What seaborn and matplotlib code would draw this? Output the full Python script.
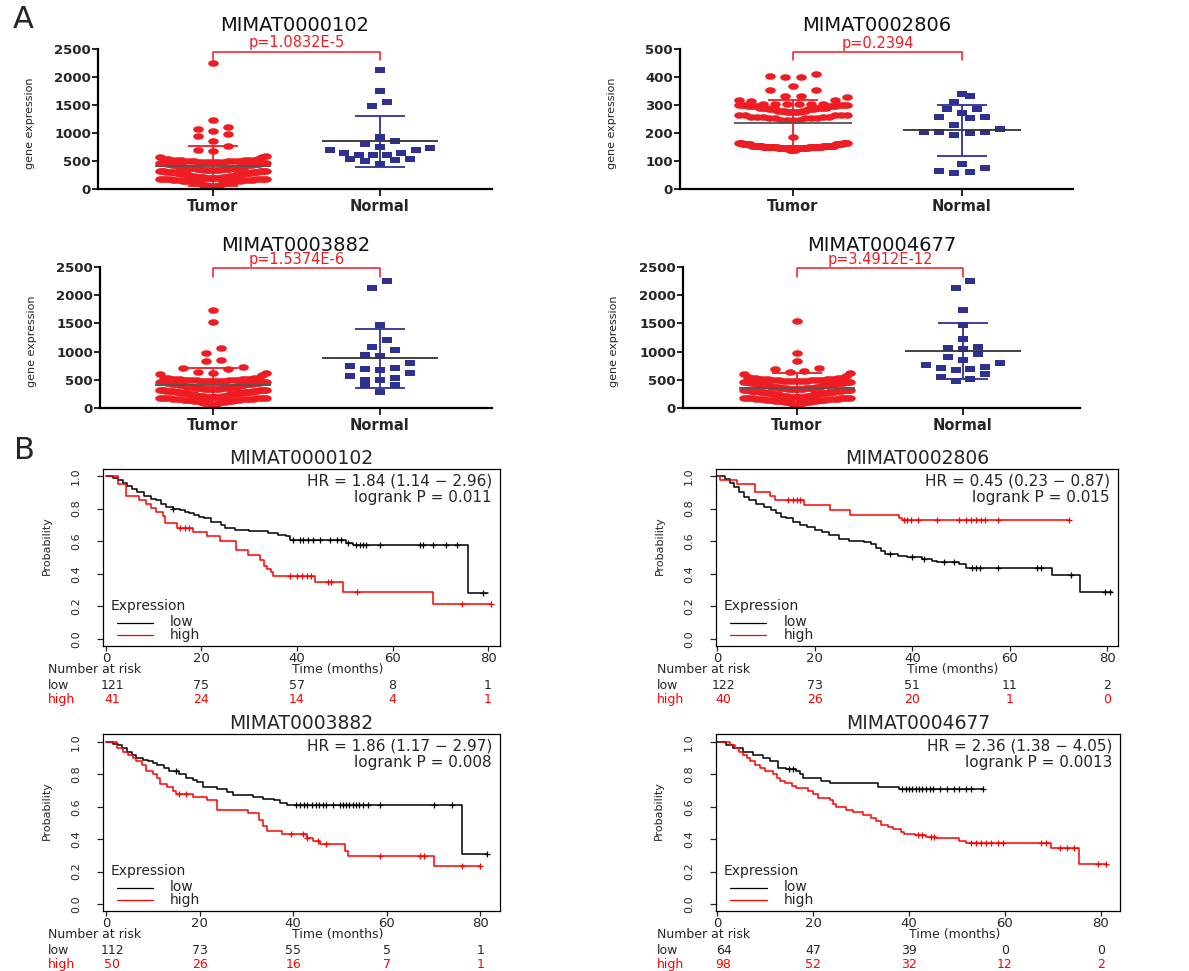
import numpy as np
import pandas as pd
import matplotlib
matplotlib.use("Agg")
import matplotlib.pyplot as plt
import matplotlib.transforms as mtrans
from matplotlib.path import Path
import seaborn as sns

# ======================= Panel A data =======================
a_titles = ["MIMAT0000102", "MIMAT0002806", "MIMAT0003882", "MIMAT0004677"]
a_pvals = ["p=1.0832E-5", "p=0.2394", "p=1.5374E-6", "p=3.4912E-12"]
a_ymax = [2500, 500, 2500, 2500]
a_ystep = [500, 100, 500, 500]
a_groups = ["Tumor", "Normal"]

# Tumor: isolated points + dense bands (value, count)
tumor1_single = [2250, 1226, 1101, 1071, 1042, 982, 952, 851, 762, 702, 673, 583, 571, 571]
tumor1_band = [540, 520, 500, 480, 460, 440, 420, 400, 380, 360, 340, 320, 300, 280, 260, 240,
               220, 200, 180, 160, 140, 120, 100, 80, 60]
tumor1_count = [3, 6, 7, 7, 6, 5, 6, 6, 7, 7, 7, 7, 7, 7, 6, 6, 7, 8, 8, 7, 5, 4, 3, 3, 3]

tumor2_single = [412, 405, 400, 400, 367, 355, 352, 333, 333, 329, 319, 319, 313, 186]
tumor2_band = [305, 300, 295, 290, 285, 280, 275, 265, 258, 252, 245, 165, 160, 155, 150, 145, 140]
tumor2_count = [6, 7, 7, 7, 6, 5, 5, 5, 5, 5, 4, 7, 13, 19, 23, 19, 5]

tumor3_single = [1740, 1532, 1057, 980, 849, 837, 730, 718, 700, 641, 629, 612, 594, 582, 540]
tumor3_band = [540, 520, 500, 480, 460, 440, 420, 400, 380, 360, 340, 320, 300, 280, 260, 240,
               220, 200, 180, 160, 140, 120, 100, 80, 60]
tumor3_count = [3, 6, 7, 7, 6, 5, 6, 6, 7, 7, 7, 7, 7, 7, 6, 6, 7, 8, 8, 7, 5, 4, 3, 3, 2]

tumor4_single = [1544, 980, 837, 718, 700, 653, 641, 612, 600, 570, 552, 540]
tumor4_band = [540, 520, 500, 480, 460, 440, 420, 400, 380, 360, 340, 320, 300, 280, 260, 240,
               220, 200, 180, 160, 140, 120, 100, 80, 60]
tumor4_count = [3, 6, 7, 7, 6, 5, 6, 6, 7, 7, 7, 7, 7, 7, 6, 6, 7, 8, 8, 7, 6, 5, 4, 3, 2]

normal1 = [2130, 1756, 1554, 1476, 923, 851, 810, 744, 732, 702, 690, 643, 643, 613, 613,
           601, 542, 536, 512, 500, 452]
normal2 = [340, 333, 311, 286, 286, 271, 257, 257, 254, 230, 214, 205, 202, 202, 200, 194,
           89, 75, 65, 61, 57]
normal3 = [2245, 2126, 1473, 1205, 1087, 1027, 938, 920, 802, 748, 701, 683, 671, 612, 570,
           540, 505, 493, 416, 404, 285]
normal4 = [2245, 2126, 1740, 1473, 1217, 1075, 1057, 1039, 950, 908, 849, 802, 760, 730, 718,
           689, 671, 594, 552, 511, 481]

tumor_mean = [410, 236, 404, 356]
tumor_sd = [358, 83, 308, 261]
normal_mean = [850, 209, 879, 1009]
normal_sd = [460, 90, 520, 503]

# ======================= Panel B data =======================
b_titles = ["MIMAT0000102", "MIMAT0002806", "MIMAT0003882", "MIMAT0004677"]
b_hr = ["HR = 1.84 (1.14 \u2212 2.96)", "HR = 0.45 (0.23 \u2212 0.87)",
        "HR = 1.86 (1.17 \u2212 2.97)", "HR = 2.36 (1.38 \u2212 4.05)"]
b_logrank = ["logrank P = 0.011", "logrank P = 0.015", "logrank P = 0.008", "logrank P = 0.0013"]
risk_times = [0, 20, 40, 60, 80]
risk_low = [[121, 75, 57, 8, 1], [122, 73, 51, 11, 2], [112, 73, 55, 5, 1], [64, 47, 39, 0, 0]]
risk_high = [[41, 24, 14, 4, 1], [40, 26, 20, 1, 0], [50, 26, 16, 7, 1], [98, 52, 32, 12, 2]]

km1_low_t = [0, 1.5, 2.5, 3.5, 4.5, 5.5, 6.5, 8, 9.5, 10.5, 11.5, 12.5, 14, 15.5, 16.5, 17.5, 18.5,
             19.5, 20.5, 22, 24, 25, 27, 30, 31, 34, 36, 37.8, 38.5, 50.3, 51.7, 75.8, 80]
km1_low_s = [1.0, 0.99, 0.975, 0.96, 0.94, 0.92, 0.90, 0.88, 0.86, 0.85, 0.83, 0.81, 0.80, 0.79,
             0.78, 0.77, 0.76, 0.75, 0.74, 0.72, 0.70, 0.68, 0.67, 0.665, 0.66, 0.65, 0.64, 0.63,
             0.61, 0.59, 0.578, 0.285, 0.285]
km1_low_c = [14, 39.1, 40.6, 41.3, 42.3, 43.4, 44.8, 46.9, 48.3, 49.3, 50.7, 52.4, 53.1, 53.8,
             54.5, 57.3, 65.7, 66.4, 68.5, 71.3, 73.4, 79]
km1_high_t = [0, 2.6, 4.3, 7.0, 8.5, 9.5, 10.5, 12.0, 12.3, 14.8, 18.3, 21.1, 23.9, 27.3, 29.7,
              32.2, 33.2, 33.7, 34.5, 35.0, 43.7, 49.7, 68.5, 80.7]
km1_high_s = [1.0, 0.951, 0.878, 0.854, 0.829, 0.805, 0.780, 0.756, 0.71, 0.683, 0.658, 0.634,
              0.60, 0.545, 0.515, 0.485, 0.45, 0.43, 0.41, 0.385, 0.35, 0.288, 0.216, 0.216]
km1_high_c = [15.5, 16.5, 17.3, 38.5, 40, 41, 42, 43, 46.5, 47.2, 52.5, 74.5, 80.7]

km2_low_t = [0, 1.5, 2.5, 3.5, 4.5, 5.5, 6.5, 8, 9.5, 11, 12, 13, 14, 15.5, 17, 18.5, 20, 21.5,
             23, 25, 27, 30, 31.5, 32.5, 33.5, 34.5, 37, 39, 42, 44, 45, 49.5, 51, 68.7, 74.5, 81]
km2_low_s = [1.0, 0.98, 0.96, 0.93, 0.90, 0.87, 0.85, 0.83, 0.81, 0.79, 0.77, 0.75, 0.74, 0.72,
             0.70, 0.69, 0.67, 0.655, 0.64, 0.615, 0.60, 0.595, 0.58, 0.56, 0.54, 0.52, 0.51,
             0.50, 0.49, 0.48, 0.47, 0.46, 0.435, 0.39, 0.29, 0.29]
km2_low_c = [35.5, 40, 42.5, 46.5, 48.5, 52.2, 53, 53.8, 57.5, 65.5, 66.5, 72.5, 79.5, 80.5]
km2_high_t = [0, 0.5, 4.0, 7.7, 10.8, 11.8, 17.7, 23.2, 27.3, 37.2, 37.8, 72.1]
km2_high_s = [1.0, 0.975, 0.95, 0.90, 0.875, 0.85, 0.82, 0.79, 0.76, 0.74, 0.73, 0.73]
km2_high_c = [14.6, 15.5, 16.3, 17.0, 38.3, 39.0, 39.8, 41.2, 45.0, 49.5, 51.0, 52.0, 53.0,
              54.0, 55.0, 57.5, 72.1]

km3_low_t = [0, 1.5, 2.5, 3.5, 4.5, 5.5, 6.5, 8, 9, 10, 11, 12.3, 13.5, 15.5, 17.2, 18.5, 19.4,
             20.8, 23.7, 25.8, 27.2, 31.5, 33.6, 35.8, 37.2, 38.6, 76.0, 81.4]
km3_low_s = [1.0, 0.99, 0.98, 0.96, 0.94, 0.92, 0.90, 0.89, 0.88, 0.87, 0.86, 0.84, 0.82, 0.80,
             0.78, 0.765, 0.75, 0.725, 0.71, 0.69, 0.67, 0.66, 0.65, 0.64, 0.625, 0.61, 0.306,
             0.306]
km3_low_c = [15.0, 40.5, 41.5, 42.3, 43.0, 44.0, 44.8, 45.5, 46.3, 47.0, 48.5, 50.0, 50.7, 51.3,
             52.0, 52.7, 53.4, 54.1, 55.0, 56.0, 58.5, 70.0, 74.0, 81.4]
km3_high_t = [0, 2.3, 3.7, 4.8, 5.8, 6.5, 7.6, 8.5, 10.1, 10.8, 11.5, 13.0, 14.4, 15.0, 18.7,
              21.5, 23.7, 30.4, 32.6, 33.6, 34.4, 37.6, 42.9, 44.3, 45.8, 51.1, 51.8, 70.0, 80.0]
km3_high_s = [1.0, 0.96, 0.94, 0.92, 0.90, 0.88, 0.86, 0.82, 0.80, 0.78, 0.74, 0.72, 0.70, 0.68,
              0.66, 0.64, 0.58, 0.56, 0.52, 0.48, 0.45, 0.43, 0.41, 0.39, 0.37, 0.33, 0.295,
              0.235, 0.235]
km3_high_c = [15.5, 17.0, 39.5, 42.0, 43.0, 45.3, 47.0, 58.5, 67.0, 68.0, 76.0, 80.0]

km4_low_t = [0, 1.9, 3.3, 5.4, 7.5, 9.6, 11.0, 12.7, 14.4, 16.5, 17.2, 17.9, 21.7, 23.5, 33.5,
             38.0, 55.4]
km4_low_s = [1.0, 0.98, 0.96, 0.94, 0.92, 0.90, 0.88, 0.84, 0.83, 0.82, 0.80, 0.78, 0.76, 0.745,
             0.725, 0.712, 0.712]
km4_low_c = [15.0, 15.7, 38.5, 39.3, 40.0, 40.7, 41.4, 42.1, 42.8, 43.5, 44.3, 45.0, 46.5, 48.0,
             49.3, 50.5, 51.8, 53.0, 55.4]
km4_high_t = [0, 2.6, 3.7, 4.6, 5.4, 6.1, 6.9, 7.8, 8.9, 9.9, 11.7, 12.4, 13.0, 14.1, 15.5, 16.5,
              18.9, 20.0, 21.0, 23.5, 24.2, 24.8, 26.9, 28.3, 30.4, 32.1, 33.2, 34.2, 35.6, 36.6,
              38.4, 39.0, 41.2, 43.6, 45.7, 50.5, 51.9, 69.6, 75.5, 81.0]
km4_high_s = [1.0, 0.98, 0.96, 0.94, 0.92, 0.90, 0.88, 0.86, 0.84, 0.82, 0.80, 0.78, 0.76, 0.745,
              0.73, 0.715, 0.70, 0.68, 0.655, 0.64, 0.615, 0.60, 0.58, 0.565, 0.55, 0.53, 0.515,
              0.49, 0.475, 0.46, 0.445, 0.43, 0.425, 0.415, 0.405, 0.39, 0.375, 0.345, 0.25, 0.25]
km4_high_c = [41.8, 42.6, 44.5, 45.2, 53.0, 54.0, 55.0, 56.0, 57.0, 58.5, 59.5, 67.5, 68.5, 71.5,
              73.0, 74.5, 79.5, 81.0]

# ======================= style =======================
sns.set_theme(style="ticks")
plt.rcParams["font.family"] = ["DejaVu Sans"]
RED_A = "#EE1D23"
NAVY = "#2E3192"

W, H = 1189, 971
fig = plt.figure(figsize=(W / 100, H / 100), dpi=100)


def rect(l, r, t, b):
    return [l / W, 1 - b / H, (r - l) / W, (b - t) / H]


def swarm_layout(values, bin_w, max_sp, max_half):
    """GraphPad-like scatter: rows of nearby values spread sideways, lowest in the centre."""
    v = np.sort(np.asarray(values, float))
    xs = np.zeros_like(v)
    i = 0
    while i < len(v):
        j = i
        while j < len(v) and v[j] - v[i] < bin_w:
            j += 1
        n = j - i
        sp = max_sp if n == 1 else min(max_sp, 2 * max_half / (n - 1))
        slots = (np.arange(n) - (n - 1) / 2) * sp
        order = np.argsort(np.abs(slots) + 1e-9 * np.arange(n), kind="stable")
        xs[i:j] = slots[order]
        i = j
    return v, xs


ell = np.linspace(0, 2 * np.pi, 41)
ellipse_marker = Path(np.c_[np.cos(ell), 0.62 * np.sin(ell)], closed=True)
rect_marker = Path([(-1, -0.55), (1, -0.55), (1, 0.55), (-1, 0.55), (-1, -0.55)], closed=True)

tumors = [
    np.repeat(tumor1_single + tumor1_band, [1] * len(tumor1_single) + tumor1_count),
    np.repeat(tumor2_single + tumor2_band, [1] * len(tumor2_single) + tumor2_count),
    np.repeat(tumor3_single + tumor3_band, [1] * len(tumor3_single) + tumor3_count),
    np.repeat(tumor4_single + tumor4_band, [1] * len(tumor4_single) + tumor4_count),
]
normals = [normal1, normal2, normal3, normal4]

a_rects = [rect(98, 492, 49, 189), rect(680, 1073, 49, 189),
           rect(100, 492, 267, 408), rect(683, 1080, 267, 408)]
a_xlims = [(-0.689, 1.671), (-0.669, 1.657), (-0.677, 1.671), (-0.687, 1.705)]
a_title_y = [1.171, 1.171, 1.156, 1.156]
a_p_y = [1.043, 1.036, 1.05, 1.05]
a_br_top = [0.979, 0.981, 0.995, 0.991]
a_br_bot = [0.921, 0.921, 0.931, 0.931]

for k in range(4):
    ax = fig.add_axes(a_rects[k])
    ymax = a_ymax[k]
    tv, tx = swarm_layout(tumors[k], 0.055 * ymax, 0.09, 0.32)
    nv, nx = swarm_layout(normals[k], 0.055 * ymax, 0.09, 0.30)
    dft = pd.DataFrame({"x": 0 + tx, "value": tv})
    dfn = pd.DataFrame({"x": 1 + nx, "value": nv})
    sns.scatterplot(data=dft, x="x", y="value", ax=ax, marker=ellipse_marker, s=58,
                    color=RED_A, linewidth=0, legend=False, zorder=2)
    sns.scatterplot(data=dfn, x="x", y="value", ax=ax, marker=rect_marker, s=60,
                    color=NAVY, linewidth=0, legend=False, zorder=2)
    for gi, (m, sd, mc, sc) in enumerate([(tumor_mean[k], tumor_sd[k], "#555555", RED_A),
                                          (normal_mean[k], normal_sd[k], "#333333", NAVY)]):
        ax.hlines(m, gi - 0.35, gi + 0.35, color=mc, lw=1.3, zorder=4)
        ax.vlines(gi, max(m - sd, 0), m + sd, color=sc, lw=1.3, zorder=4)
        ax.hlines([m + sd, m - sd], gi - 0.15, gi + 0.15, color=sc, lw=1.3, zorder=4)
    ax.set_xlim(*a_xlims[k])
    ax.set_ylim(0, ymax)
    ax.set_yticks(np.arange(0, ymax + 1, a_ystep[k]))
    ax.set_xticks([0, 1])
    ax.set_xticklabels(a_groups, fontsize=10.5, fontweight="bold")
    for lab in ax.get_yticklabels():
        lab.set_fontsize(9.5)
        lab.set_fontweight("bold")
    ax.tick_params(axis="y", length=4, width=1.4, pad=1)
    ax.tick_params(axis="x", length=5, width=1.4, pad=2)
    for sp in ("top", "right"):
        ax.spines[sp].set_visible(False)
    for sp in ("left", "bottom"):
        ax.spines[sp].set_linewidth(1.6)
        ax.spines[sp].set_color("black")
    ax.set_xlabel("")
    ax.set_ylabel("gene expression", fontsize=8)
    ax.yaxis.set_label_coords(-0.16, 0.47)
    ax.text(0.5, a_title_y[k], a_titles[k], transform=ax.transAxes, ha="center", va="center",
            fontsize=14, color="#111111")
    blend = mtrans.blended_transform_factory(ax.transData, ax.transAxes)
    ax.plot([0, 0, 1, 1], [a_br_bot[k], a_br_top[k], a_br_top[k], a_br_bot[k]],
            transform=blend, color=RED_A, lw=1.1, clip_on=False)
    ax.text(0.5, a_p_y[k], a_pvals[k], transform=blend, ha="center", va="center",
            fontsize=10.5, color=RED_A)

# ======================= Panel B =======================
km_low = [(km1_low_t, km1_low_s, km1_low_c), (km2_low_t, km2_low_s, km2_low_c),
          (km3_low_t, km3_low_s, km3_low_c), (km4_low_t, km4_low_s, km4_low_c)]
km_high = [(km1_high_t, km1_high_s, km1_high_c), (km2_high_t, km2_high_s, km2_high_c),
           (km3_high_t, km3_high_s, km3_high_c), (km4_high_t, km4_high_s, km4_high_c)]

b_rects = [rect(103, 500, 469, 646), rect(716, 1118, 469, 646),
           rect(103, 500, 734, 911), rect(716, 1120, 734, 911)]
b_xlims = [(-0.6, 82.5), (-0.27, 82.2), (-0.64, 84.2), (-0.27, 84.0)]
b_ylims = [(-0.043, 1.043), (-0.043, 1.043), (-0.043, 1.049), (-0.043, 1.049)]
b_left = [-0.139, -0.147, -0.139, -0.147]
RFS = 9

for k in range(4):
    ax = fig.add_axes(b_rects[k])
    for (t, s, c), col in ((km_low[k], "black"), (km_high[k], "#FF0000")):
        t = np.asarray(t, float)
        s = np.asarray(s, float)
        sns.lineplot(x=t, y=s, ax=ax, drawstyle="steps-post", color=col, lw=1.1,
                     estimator=None, errorbar=None, sort=False)
        c = np.asarray(c, float)
        cs = s[np.searchsorted(t, c, side="right") - 1]
        sns.scatterplot(x=c, y=cs, ax=ax, marker="+", s=16, color=col, linewidth=0.9,
                        legend=False, zorder=3)
    ax.set_xlim(*b_xlims[k])
    ax.set_ylim(*b_ylims[k])
    ax.set_xticks([0, 20, 40, 60, 80])
    ax.set_yticks([0.0, 0.2, 0.4, 0.6, 0.8, 1.0])
    ax.set_yticklabels(["0.0", "0.2", "0.4", "0.6", "0.8", "1.0"])
    ax.tick_params(axis="x", length=3.5, width=0.9, pad=0.5, labelsize=9.5)
    ax.tick_params(axis="y", length=4, width=0.9, pad=12, labelsize=8, labelrotation=90)
    for lab in ax.get_yticklabels():
        lab.set_va("center")
    for sp in ax.spines.values():
        sp.set_visible(True)
        sp.set_linewidth(0.9)
        sp.set_color("black")
    ax.set_xlabel("")
    ax.set_ylabel("Probability", fontsize=8)
    ax.yaxis.set_label_coords(-0.128, 0.57)
    ax.text(0.5, 1.06, b_titles[k], transform=ax.transAxes, ha="center", va="center",
            fontsize=13.5)
    ax.text(0.98, 0.935, b_hr[k], transform=ax.transAxes, ha="right", va="center", fontsize=11)
    ax.text(0.98, 0.838, b_logrank[k], transform=ax.transAxes, ha="right", va="center",
            fontsize=11)
    # legend
    ax.text(0.018, 0.226, "Expression", transform=ax.transAxes, ha="left", va="center",
            fontsize=10)
    ax.plot([0.035, 0.125], [0.13, 0.13], transform=ax.transAxes, color="black", lw=0.9)
    ax.plot([0.035, 0.125], [0.062, 0.062], transform=ax.transAxes, color="#FF0000", lw=0.9)
    ax.text(0.168, 0.135, "low", transform=ax.transAxes, ha="left", va="center", fontsize=10)
    ax.text(0.168, 0.062, "high", transform=ax.transAxes, ha="left", va="center", fontsize=10)
    # risk table
    ax.text(b_left[k], -0.135, "Number at risk", transform=ax.transAxes, ha="left",
            va="center", fontsize=RFS)
    ax.text(0.59, -0.135, "Time (months)", transform=ax.transAxes, ha="center", va="center",
            fontsize=RFS)
    ax.text(b_left[k], -0.222, "low", transform=ax.transAxes, ha="left", va="center",
            fontsize=RFS)
    ax.text(b_left[k], -0.302, "high", transform=ax.transAxes, ha="left", va="center",
            fontsize=RFS, color="#FF0000")
    blend = mtrans.blended_transform_factory(ax.transData, ax.transAxes)
    for j, tt in enumerate(risk_times):
        xpos = tt + (1.3 if j == 0 else 0)
        ax.text(xpos, -0.222, str(risk_low[k][j]), transform=blend, ha="center", va="center",
                fontsize=RFS)
        ax.text(xpos, -0.302, str(risk_high[k][j]), transform=blend, ha="center", va="center",
                fontsize=RFS, color="#FF0000")

fig.text(23 / W, 1 - 19 / H, "A", fontsize=22, ha="center", va="center")
fig.text(24 / W, 1 - 450 / H, "B", fontsize=22, ha="center", va="center")

fig.savefig("out.png", dpi=100)
